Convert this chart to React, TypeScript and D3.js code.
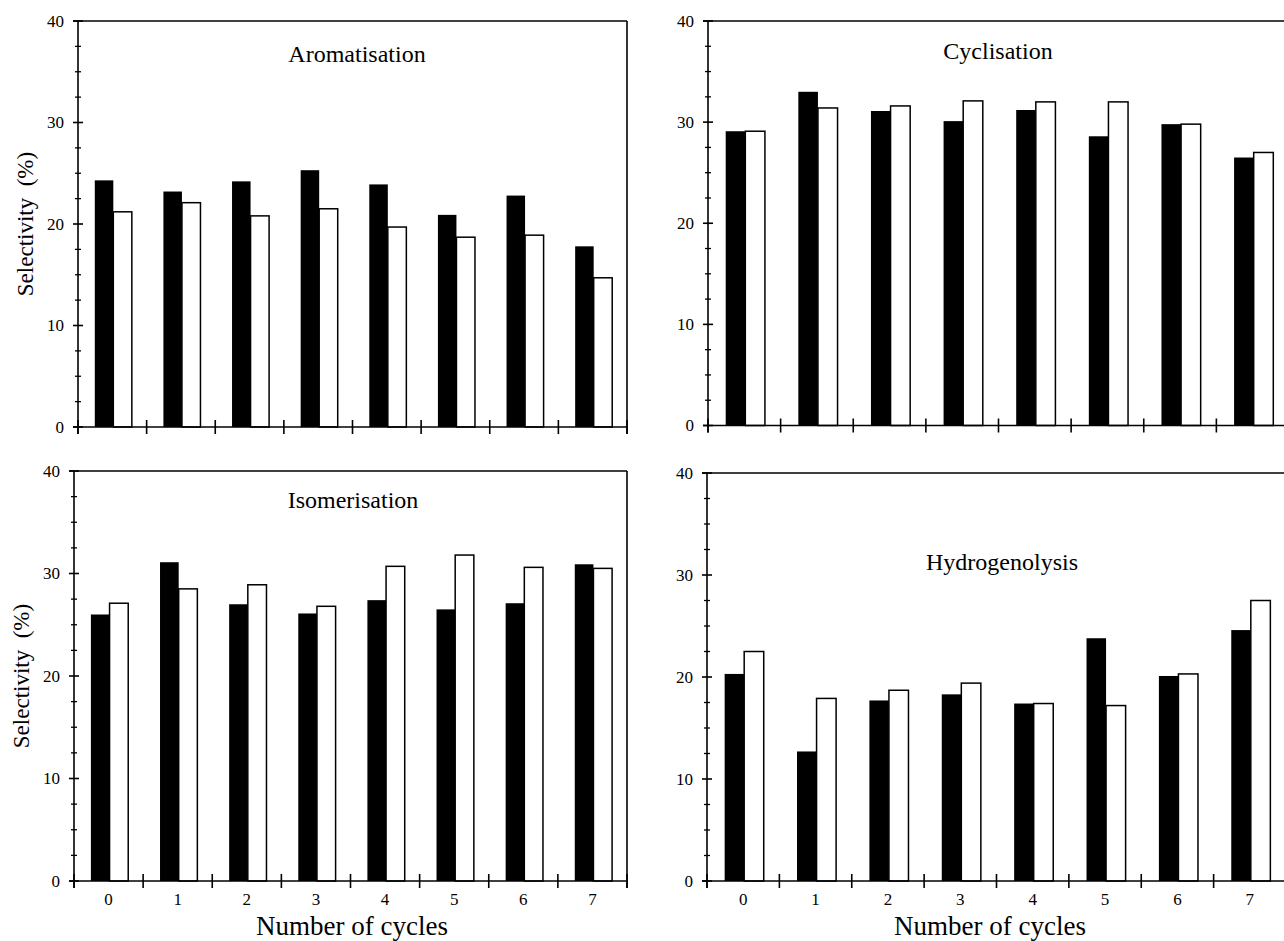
import React from 'react';
import * as d3 from 'd3';

const cycles = ['0', '1', '2', '3', '4', '5', '6', '7'];
const yTicks = [0, 10, 20, 30, 40];
const yMinorStep = 2.5;

const aromBlack = [24.3, 23.2, 24.2, 25.3, 23.9, 20.9, 22.8, 17.8];
const aromWhite = [21.2, 22.1, 20.8, 21.5, 19.7, 18.7, 18.9, 14.7];
const cyclBlack = [29.1, 33.0, 31.1, 30.1, 31.2, 28.6, 29.8, 26.5];
const cyclWhite = [29.1, 31.4, 31.6, 32.1, 32.0, 32.0, 29.8, 27.0];
const isomBlack = [26.0, 31.1, 27.0, 26.1, 27.4, 26.5, 27.1, 30.9];
const isomWhite = [27.1, 28.5, 28.9, 26.8, 30.7, 31.8, 30.6, 30.5];
const hydrBlack = [20.3, 12.7, 17.7, 18.3, 17.4, 23.8, 20.1, 24.6];
const hydrWhite = [22.5, 17.9, 18.7, 19.4, 17.4, 17.2, 20.3, 27.5];

const FONT = '"Liberation Serif", "Times New Roman", serif';

type Layout = {
  left: number; right: number; top: number; bottom: number;
  titleX: number; titleY: number;
  showX: boolean; yTitle: boolean; xTitleX: number;
};

function Panel({ title, black, white, L }: { title: string; black: number[]; white: number[]; L: Layout }) {
  const x = d3.scaleBand<string>().domain(cycles).range([L.left, L.right]).paddingInner(0).paddingOuter(0);
  const y = d3.scaleLinear().domain([0, 40]).range([L.bottom, L.top]);
  const bw = x.bandwidth() * 0.27;
  const minor = d3.range(0, 40 + 0.001, yMinorStep).filter(v => v % 10 !== 0);
  const boundaries = cycles.map(c => x(c)!).concat([L.right]);
  const sw = 1.6;
  return (
    <g>
      {cycles.map((c, i) => {
        const cx = x(c)! + x.bandwidth() / 2 + 1;
        return (
          <g key={c}>
            <rect x={cx - bw} y={y(black[i])} width={bw} height={y(0) - y(black[i])} fill="#000" />
            <rect x={cx} y={y(white[i])} width={bw} height={y(0) - y(white[i])} fill="#fff" stroke="#000" strokeWidth={1.5} />
          </g>
        );
      })}
      <line x1={L.left - 5} x2={L.right} y1={L.top} y2={L.top} stroke="#000" strokeWidth={sw} />
      <line x1={L.right} x2={L.right} y1={L.top} y2={L.bottom + 7} stroke="#000" strokeWidth={sw} />
      <line x1={L.left} x2={L.left} y1={L.top} y2={L.bottom + 7} stroke="#000" strokeWidth={sw} />
      <line x1={L.left - 5} x2={L.right} y1={L.bottom} y2={L.bottom} stroke="#000" strokeWidth={sw} />
      {yTicks.map(t => (
        <g key={t}>
          <line x1={L.left - 5} x2={L.left + 5} y1={y(t)} y2={y(t)} stroke="#000" strokeWidth={sw} />
          <text x={L.left - 14} y={y(t) + 5.5} textAnchor="end" fontFamily={FONT} fontSize={17}>{t}</text>
        </g>
      ))}
      {minor.map(t => (
        <line key={t} x1={L.left - 3} x2={L.left + 3} y1={y(t)} y2={y(t)} stroke="#000" strokeWidth={1.3} />
      ))}
      {boundaries.map((b, i) => (
        <line key={i} x1={b} x2={b} y1={L.bottom - 7} y2={L.bottom + 7} stroke="#000" strokeWidth={sw} />
      ))}
      {L.showX && cycles.map(c => (
        <text key={c} x={x(c)! + x.bandwidth() / 2} y={L.bottom + 24} textAnchor="middle" fontFamily={FONT} fontSize={17}>{c}</text>
      ))}
      <text x={L.titleX} y={L.titleY} textAnchor="middle" fontFamily={FONT} fontSize={24}>{title}</text>
      {L.yTitle && (
        <text transform={`translate(${L.left - 45},${(L.top + L.bottom) / 2}) rotate(-90)`} textAnchor="middle" fontFamily={FONT} fontSize={23} style={{ whiteSpace: 'pre' }}>{'Selectivity  (%)'}</text>
      )}
      {L.showX && (
        <text x={L.xTitleX} y={L.bottom + 54} textAnchor="middle" fontFamily={FONT} fontSize={27}>Number of cycles</text>
      )}
    </g>
  );
}

const layouts: Record<string, Layout> = {
  tl: { left: 78, right: 627, top: 21, bottom: 427, titleX: 357, titleY: 62, showX: false, yTitle: true, xTitleX: 352 },
  tr: { left: 708, right: 1289, top: 21, bottom: 425.5, titleX: 998, titleY: 59, showX: false, yTitle: false, xTitleX: 990 },
  bl: { left: 74, right: 627, top: 471, bottom: 881, titleX: 353, titleY: 508, showX: true, yTitle: true, xTitleX: 352 },
  br: { left: 707, right: 1286, top: 473, bottom: 881, titleX: 1002, titleY: 570, showX: true, yTitle: false, xTitleX: 990 },
};

export default function App() {
  return (
    <svg width={1284} height={941} style={{ position: 'absolute', left: 0, top: 0, background: '#fff' }}>
      <rect width={1284} height={941} fill="#fff" />
      <Panel title="Aromatisation" black={aromBlack} white={aromWhite} L={layouts.tl} />
      <Panel title="Cyclisation" black={cyclBlack} white={cyclWhite} L={layouts.tr} />
      <Panel title="Isomerisation" black={isomBlack} white={isomWhite} L={layouts.bl} />
      <Panel title="Hydrogenolysis" black={hydrBlack} white={hydrWhite} L={layouts.br} />
    </svg>
  );
}
